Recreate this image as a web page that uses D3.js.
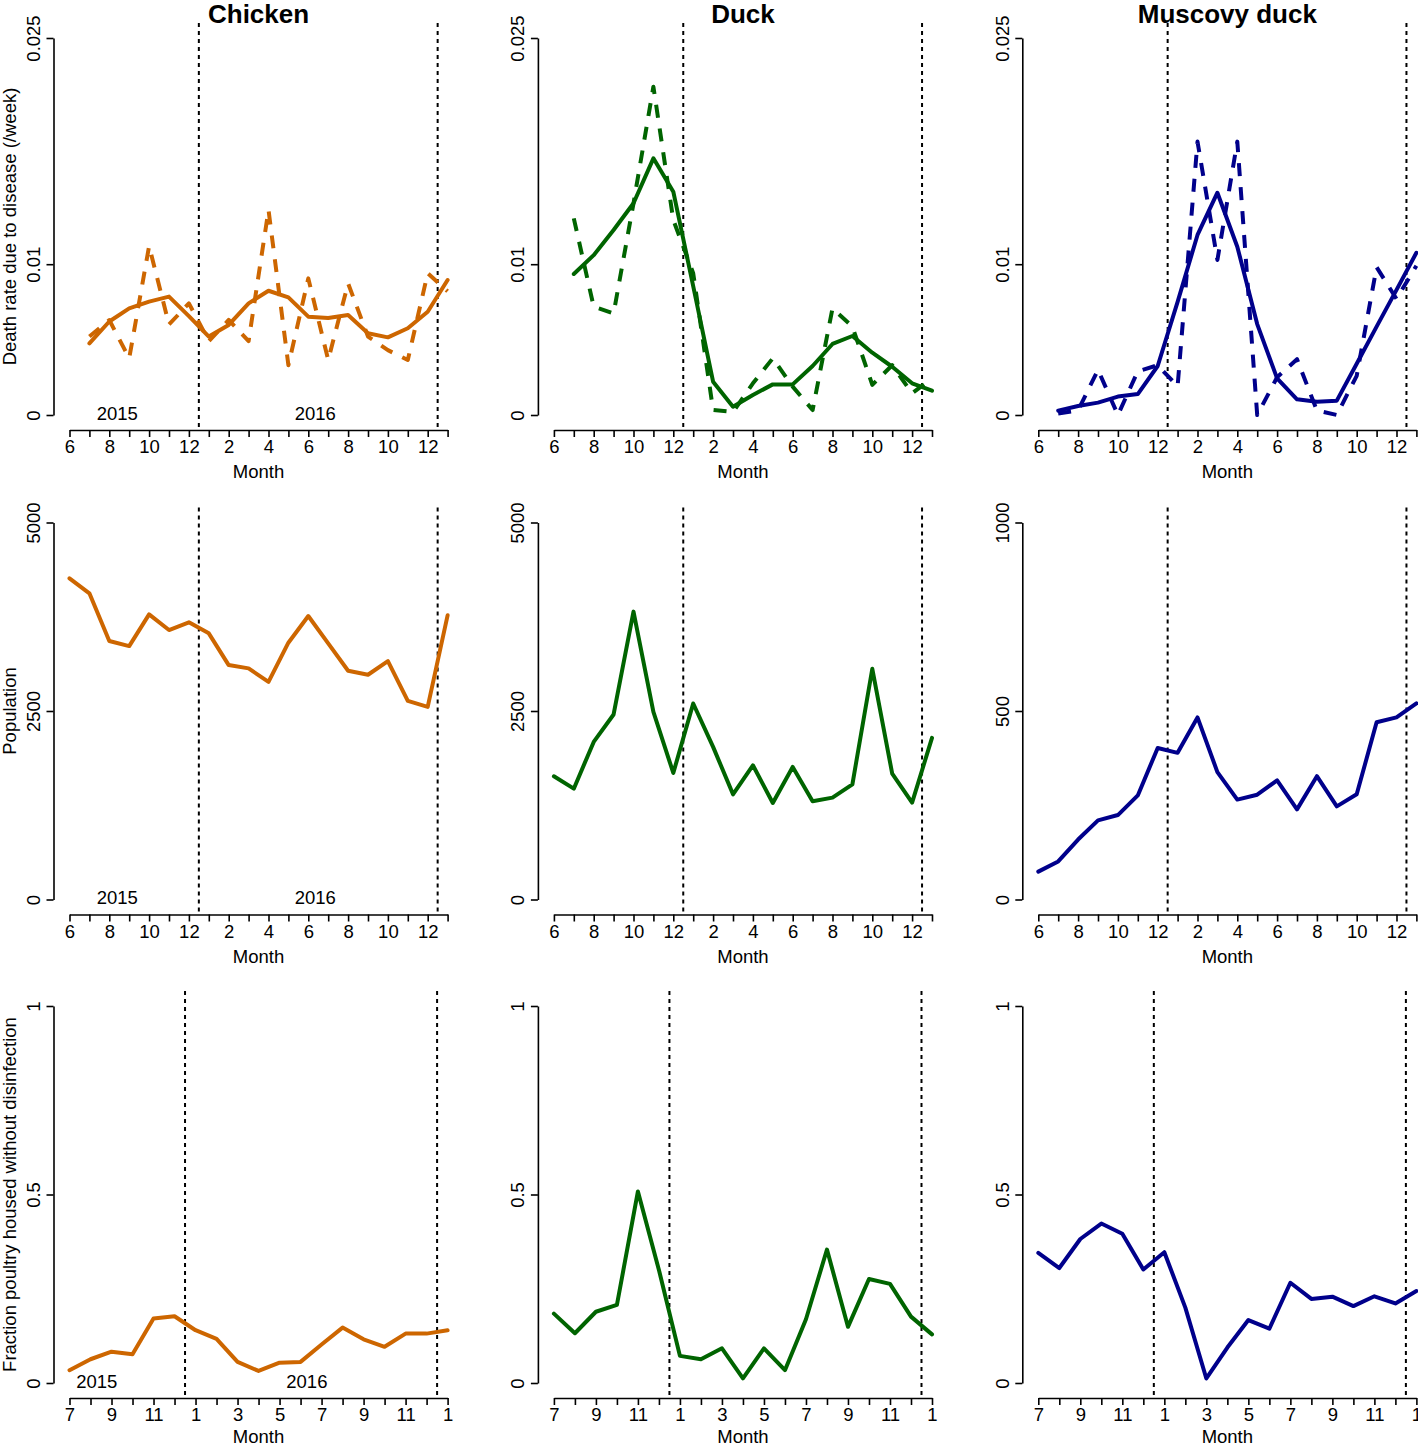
<!DOCTYPE html>
<html><head><meta charset="utf-8">
<script src="https://cdn.jsdelivr.net/npm/d3@7"></script>
<style>
body{margin:0;background:#fff}
svg{display:block}
text{font-family:"Liberation Sans",Arial,Helvetica,sans-serif;fill:#000}
</style>
</head><body>
<svg id="chart" width="1418" height="1448"></svg>
<script>
// ---------------- data ----------------
const species = ["Chicken", "Duck", "Muscovy duck"];
const speciesColors = ["#CD6600", "#006400", "#00008B"];

const monthsDeath = [7,8,9,10,11,12,13,14,15,16,17,18,19,20,21,22,23,24,25];
const monthsPop   = [6,7,8,9,10,11,12,13,14,15,16,17,18,19,20,21,22,23,24,25];
const monthsFrac  = [7,8,9,10,11,12,13,14,15,16,17,18,19,20,21,22,23,24,25];

// Death rate due to disease (/week): smoothed (solid) and raw (dashed)
const chickenDeathSmooth = [0.00475,0.0062,0.00707,0.00752,0.00785,0.00656,0.0052,0.00597,0.0074,0.00824,0.0078,0.00652,0.00643,0.00663,0.00542,0.00515,0.00575,0.00685,0.00895];
const chickenDeathRaw    = [0.0052,0.0063,0.00376,0.0112,0.006,0.0074,0.0049,0.0063,0.0049,0.0136,0.0033,0.00906,0.00365,0.00873,0.0052,0.0043,0.00365,0.0094,0.0082];
const duckDeathSmooth    = [0.00935,0.0106,0.01227,0.01404,0.01702,0.01481,0.00855,0.00221,0.00055,0.00133,0.00203,0.00203,0.00325,0.00471,0.00524,0.00413,0.0032,0.0021,0.00161];
const duckDeathRaw       = [0.01304,0.00718,0.00674,0.01404,0.02177,0.01293,0.0094,0.00033,0.0002,0.0021,0.00376,0.00188,0.00033,0.00707,0.00586,0.002,0.0033,0.00144,0.00243];
const muscovyDeathSmooth = [0.00029,0.0006,0.00082,0.00122,0.00139,0.00325,0.0075,0.01194,0.01474,0.01116,0.00603,0.00243,0.00104,0.00088,0.00095,0.0034,0.00586,0.0083,0.01076];
const muscovyDeathRaw    = [0.0001,0.0003,0.003,0.0,0.0029,0.0033,0.0019,0.01813,0.01028,0.01813,0.0,0.0025,0.0037,0.0003,0.0,0.0026,0.0098,0.0077,0.0099];

// Population
const chickenPop = [4260,4061,3428,3361,3782,3574,3676,3530,3109,3065,2887,3406,3760,3397,3034,2981,3162,2635,2555,3769];
const duckPop    = [1634,1470,2090,2454,3818,2489,1678,2600,2024,1395,1780,1280,1758,1302,1351,1528,3060,1670,1284,2143];
const muscovyPop = [74,101,159,210,224,276,402,389,483,338,265,278,316,239,327,247,279,470,483,520];

// Fraction poultry housed without disinfection
const chickenFrac = [0.034,0.063,0.083,0.076,0.171,0.177,0.140,0.117,0.056,0.032,0.054,0.056,0.102,0.147,0.116,0.096,0.131,0.131,0.140];
const duckFrac    = [0.184,0.132,0.189,0.207,0.508,0.30,0.072,0.063,0.092,0.012,0.092,0.034,0.169,0.354,0.149,0.276,0.263,0.176,0.129];
const muscovyFrac = [0.345,0.305,0.382,0.423,0.396,0.301,0.347,0.200,0.012,0.094,0.167,0.144,0.266,0.223,0.229,0.204,0.230,0.211,0.244];

// axes / annotations
const deathTicks = [0, 0.01, 0.025];
const popTicks = [[0,2500,5000],[0,2500,5000],[0,500,1000]];
const fracTicks = [0, 0.5, 1];
const yearBreaks = [12.5, 24.5];
const yearLabels = ["2015", "2016"];
const yearLabelPosTop = [8.4, 18.35];
const yearLabelPosBottom = [8.3, 18.3];
const yLabels = ["Death rate due to disease (/week)", "Population", "Fraction poultry housed without disinfection"];

// ---------------- drawing ----------------
const svg = d3.select("#chart");
const colX = [0, 484.4, 968.8];
const rowY = [0, 484.5, 968];
const FS = 18.5;
const H = 1448;

function fmtNum(v){ return String(v); }

function panel(col, row, opts){
  const ox = colX[col], oy = rowY[row];
  const g = svg.append("g");
  const x = d3.scaleLinear().domain(opts.xDomain).range([ox + 69.5, ox + 447.6]);
  const y = d3.scaleLinear().domain([0, opts.yMax]).range([oy + 415, oy + 38]);

  // x axis
  const xTicks = d3.range(opts.xDomain[0], opts.xDomain[1] + 1);
  const xa = g.append("g").attr("transform", `translate(0,${oy + 430})`)
    .call(d3.axisBottom(x).tickValues(xTicks).tickSize(7).tickSizeOuter(0)
      .tickFormat(d => (d % 2 === opts.labelParity) ? String(((d - 1) % 12) + 1) : ""));
  xa.select(".domain").attr("stroke", "#000").attr("stroke-width", 1.6);
  xa.selectAll(".tick line").attr("stroke", "#000").attr("stroke-width", 1.6);
  xa.selectAll(".tick text").attr("y", 23.3).attr("dy", 0)
    .style("font-size", FS + "px").attr("fill", "#000");
  xa.attr("font-family", null).attr("font-size", null);

  g.append("text").attr("x", (x.range()[0] + x.range()[1]) / 2)
    .attr("y", Math.min(oy + 478, H - 5))
    .attr("text-anchor", "middle").style("font-size", FS + "px").text("Month");

  // y axis
  const ya = g.append("g").attr("transform", `translate(${ox + 53.5},0)`)
    .call(d3.axisLeft(y).tickValues(opts.yTicks).tickSize(7).tickSizeOuter(0).tickFormat(fmtNum));
  ya.select(".domain").attr("stroke", "#000").attr("stroke-width", 1.6);
  ya.selectAll(".tick line").attr("stroke", "#000").attr("stroke-width", 1.6);
  ya.selectAll(".tick text").attr("x", 0).attr("y", -13.5).attr("dy", 0)
    .attr("transform", "rotate(-90)").attr("text-anchor", "middle")
    .style("font-size", FS + "px").attr("fill", "#000");
  ya.attr("font-family", null).attr("font-size", null);

  if (opts.yLabel) {
    const cy = oy + (38 + 415) / 2;
    g.append("text").attr("transform", `translate(${ox + 15.5},${cy}) rotate(-90)`)
      .attr("text-anchor", "middle").style("font-size", FS + "px").text(opts.yLabel);
  }
  if (opts.title) {
    g.append("text").attr("x", (x.range()[0] + x.range()[1]) / 2).attr("y", oy + 23)
      .attr("text-anchor", "middle").style("font-size", "26px").style("font-weight", "bold")
      .text(opts.title);
  }

  // year break lines
  yearBreaks.forEach(b => {
    g.append("line").attr("x1", x(b)).attr("x2", x(b))
      .attr("y1", oy + 23).attr("y2", oy + 430)
      .attr("stroke", "#000").attr("stroke-width", 2).attr("stroke-dasharray", "4,4");
  });

  if (opts.yearPos) {
    opts.yearPos.forEach((p, i) => {
      g.append("text").attr("x", x(p)).attr("y", y(0) + 4.5).attr("text-anchor", "middle")
        .style("font-size", FS + "px").text(yearLabels[i]);
    });
  }

  const line = d3.line().x(d => x(d[0])).y(d => y(d[1]));
  opts.series.forEach(s => {
    g.append("path").datum(s.months.map((m, i) => [m, s.values[i]]))
      .attr("d", line).attr("fill", "none").attr("stroke", s.color)
      .attr("stroke-width", 4).attr("stroke-linejoin", "round").attr("stroke-linecap", s.dash ? "butt" : "round")
      .attr("stroke-dasharray", s.dash ? "13,11" : null);
  });
}

const deathSmooth = [chickenDeathSmooth, duckDeathSmooth, muscovyDeathSmooth];
const deathRaw = [chickenDeathRaw, duckDeathRaw, muscovyDeathRaw];
const pops = [chickenPop, duckPop, muscovyPop];
const fracs = [chickenFrac, duckFrac, muscovyFrac];

for (let c = 0; c < 3; c++) {
  panel(c, 0, {
    xDomain: [6, 25], labelParity: 0, yMax: 0.025, yTicks: deathTicks,
    title: species[c], yLabel: c === 0 ? yLabels[0] : null,
    yearPos: c === 0 ? yearLabelPosTop : null,
    series: [
      {months: monthsDeath, values: deathRaw[c], color: speciesColors[c], dash: true},
      {months: monthsDeath, values: deathSmooth[c], color: speciesColors[c], dash: false}
    ]
  });
  panel(c, 1, {
    xDomain: [6, 25], labelParity: 0, yMax: popTicks[c][2], yTicks: popTicks[c],
    yLabel: c === 0 ? yLabels[1] : null,
    yearPos: c === 0 ? yearLabelPosTop : null,
    series: [{months: monthsPop, values: pops[c], color: speciesColors[c], dash: false}]
  });
  panel(c, 2, {
    xDomain: [7, 25], labelParity: 1, yMax: 1, yTicks: fracTicks,
    yLabel: c === 0 ? yLabels[2] : null,
    yearPos: c === 0 ? yearLabelPosBottom : null,
    series: [{months: monthsFrac, values: fracs[c], color: speciesColors[c], dash: false}]
  });
}
</script>
</body></html>
